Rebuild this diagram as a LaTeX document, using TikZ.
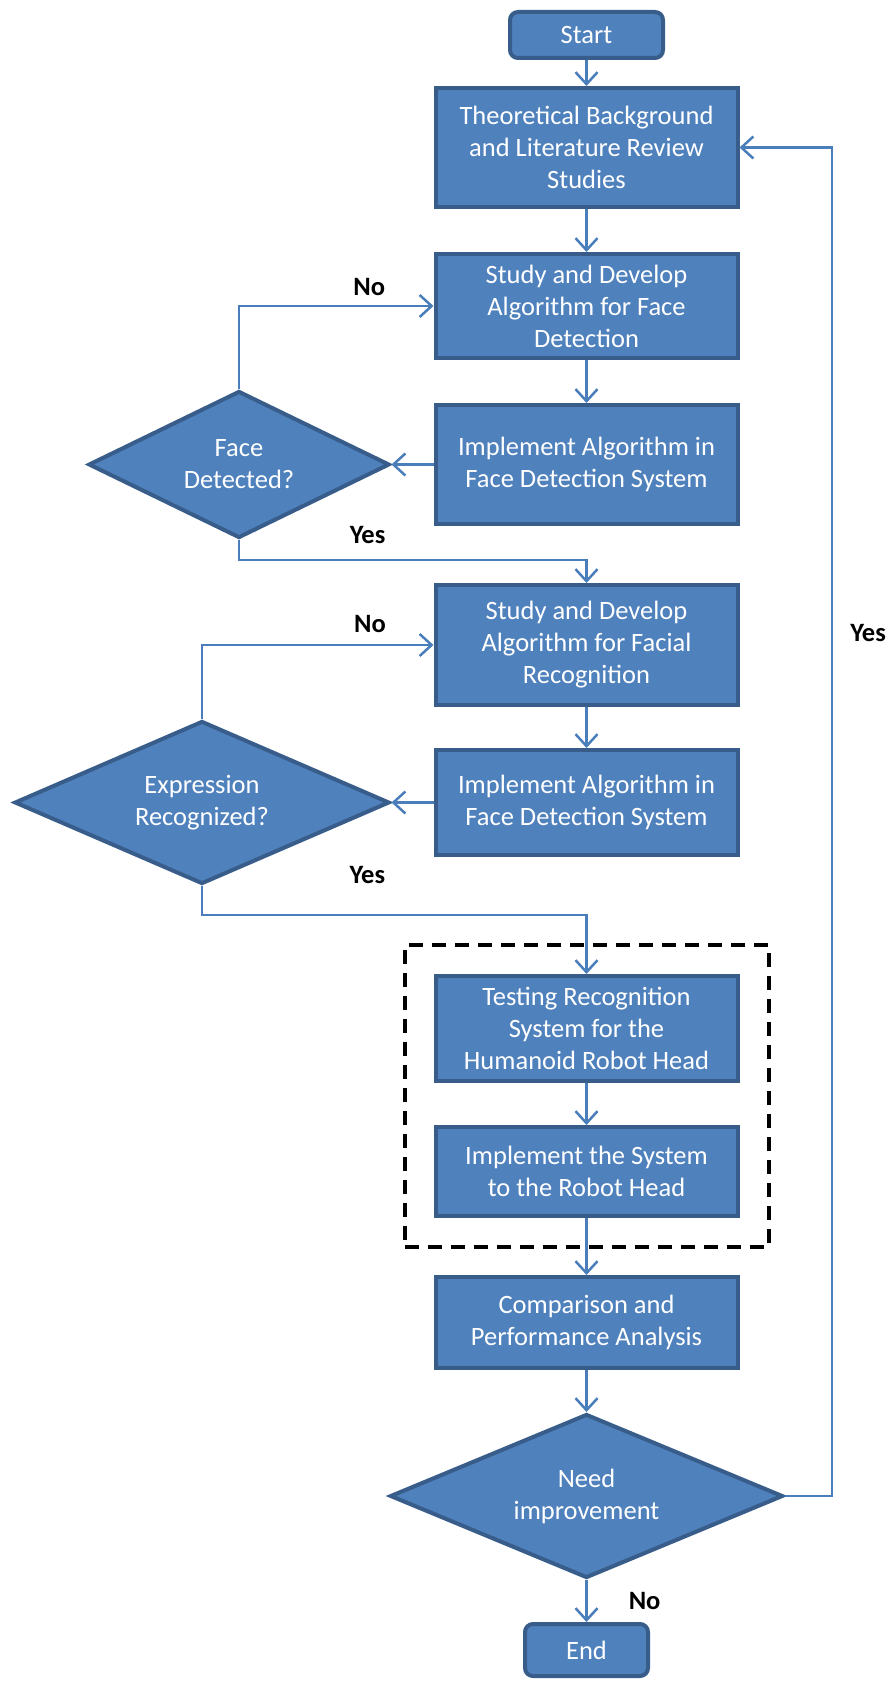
\documentclass[tikz,border=0pt]{standalone}
\usepackage{fontspec}
\setmainfont{Carlito}
\usetikzlibrary{positioning, shapes.geometric, arrows.meta, fit}
\definecolor{boxfill}{HTML}{4F81BD}
\definecolor{boxline}{HTML}{385D8A}
\definecolor{linkblue}{HTML}{4A7EBB}

\begin{document}
\begin{tikzpicture}[
    x=1pt, y=1pt,
    process/.style={rectangle, minimum width=302pt, fill=boxfill, draw=boxline, line width=4pt, text=white, align=center, font=\fontsize{26.5}{32}\selectfont, inner sep=0pt},
    terminal/.style={process, rounded corners=8pt},
    decision/.style={diamond, aspect=2.4, fill=boxfill, draw=boxline, line width=4pt, text=white, align=center, font=\fontsize{26.5}{32}\selectfont, inner sep=0pt},
    arrow/.style={-{Straight Barb[length=12pt, width=22pt]}, draw=linkblue, line width=2.5pt},
    answer/.style={font=\fontsize{26.5}{30}\bfseries\selectfont, text=black, inner sep=2pt},
    group/.style={draw=black, line width=4pt, dash pattern=on 14pt off 9pt, inner sep=29pt}
]
    \useasboundingbox (0,0) rectangle (888,-1683);

    % main column
    \node[terminal, minimum width=153pt, minimum height=46pt] (start) at (586.5,-35) {Start};
    \node[process, minimum height=119pt, below=26pt of start] (theory) {Theoretical Background\\and Literature Review\\Studies};
    \node[process, minimum height=104pt, below=43pt of theory] (study1) {Study and Develop\\Algorithm for Face\\Detection};
    \node[process, minimum height=119pt, below=43pt of study1] (impl1) {Implement Algorithm in\\Face Detection System};
    \node[process, minimum height=120pt, below=57pt of impl1] (study2) {Study and Develop\\Algorithm for Facial\\Recognition};
    \node[process, minimum height=105pt, below=41pt of study2] (impl2) {Implement Algorithm in\\Face Detection System};
    \node[process, minimum height=105pt, below=117pt of impl2] (testing) {Testing Recognition\\System for the\\Humanoid Robot Head};
    \node[process, minimum height=89pt, below=42pt of testing] (implsys) {Implement the System\\to the Robot Head};
    \node[process, minimum height=91pt, below=57pt of implsys] (compar) {Comparison and\\Performance Analysis};
    \node[decision, minimum width=393pt, minimum height=164pt, below=42pt of compar] (need) {Need\\improvement};
    \node[terminal, minimum width=123pt, minimum height=52pt, below=42pt of need] (end) {End};

    % decisions on the left
    \node[decision, minimum width=301pt, minimum height=147pt, left=42pt of impl1] (face) {Face\\Detected?};
    \node[decision, minimum width=375pt, minimum height=163pt, left=42pt of impl2] (expr) {Expression\\Recognized?};

    \node[group, fit=(testing)(implsys)] (testgroup) {};

    \draw[arrow] (start) -- (theory);
    \draw[arrow] (theory) -- (study1);
    \draw[arrow] (study1) -- (impl1);
    \draw[arrow] (impl1) -- (face);
    \draw[arrow] (face) |- node[answer, pos=0.835, above=7pt] {No} (study1);
    \draw[arrow] (face.south) -- ++(0,-20) -| node[answer, pos=0.185, above=13pt] {Yes} (study2);
    \draw[arrow] (study2) -- (impl2);
    \draw[arrow] (impl2) -- (expr);
    \draw[arrow] (expr) |- node[answer, pos=0.863, above=9pt] {No} (study2);
    \draw[arrow] (expr.south) -- ++(0,-29) -| node[answer, pos=0.215, above=28pt] {Yes} (testing);
    \draw[arrow] (testing) -- (implsys);
    \draw[arrow] (implsys) -- (compar);
    \draw[arrow] (compar) -- (need);
    \draw[arrow] (need) -- node[answer, right=39pt] {No} (end);
    \draw[arrow] (need.east) -- ++(47,0) |- node[answer, pos=0.32, right=15pt] {Yes} (theory);
\end{tikzpicture}
\end{document}
